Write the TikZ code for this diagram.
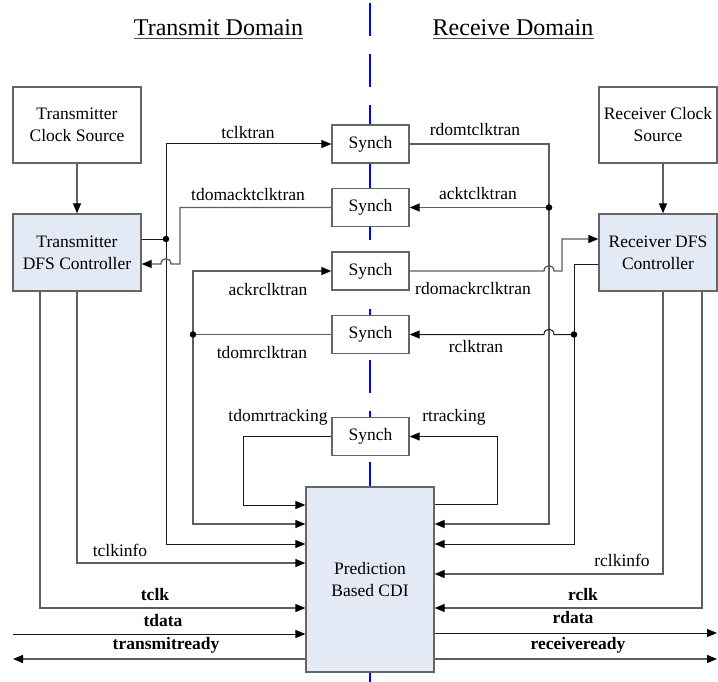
\documentclass[tikz,border=0pt]{standalone}
\usepackage{fontspec}
\setmainfont{Liberation Serif}
\usetikzlibrary{arrows.meta}
\definecolor{bord}{HTML}{666666}
\definecolor{fillb}{HTML}{E4EAF5}
\definecolor{gl}{HTML}{5E5E5E}
\definecolor{bl}{HTML}{1A1A1A}
\tikzset{
  fnt/.style={font=\fontsize{17.5}{22}\selectfont},
  box/.style={draw=bord, line width=1.3pt, fill=white, align=center, inner sep=0pt, fnt},
  bluebox/.style={box, fill=fillb},
  synchbox/.style={box, minimum width=77pt, minimum height=38pt},
  gwire/.style={draw=gl, line width=1.3pt},
  bwire/.style={draw=bl, line width=1pt},
  tip/.style={-{Triangle[length=10pt,width=8pt,color=black]}},
  lbl/.style={fnt, inner sep=0pt},
  blbl/.style={inner sep=0pt, font=\fontsize{17.5}{22}\selectfont\bfseries},
  ttl/.style={inner sep=0pt, font=\fontsize{24}{28}\selectfont},
  jdot/.style={circle, fill=black, inner sep=0pt, minimum size=6.5pt},
}
\begin{document}
\begin{tikzpicture}[x=1pt,y=-1pt]
\useasboundingbox (0,0) rectangle (718,682);
\fill[white] (0,0) rectangle (718,682);
% domain divider
\draw[blue, line width=2pt, dash pattern=on 33pt off 18pt] (370,3) -- (370,682);
% titles
\node[ttl] (tt) at (218.5,28) {Transmit Domain};
\draw[black!70, line width=1.2pt] ([yshift=-3pt]tt.base west) -- ([yshift=-3pt]tt.base east);
\node[ttl] (rt) at (513,28) {Receive Domain};
\draw[black!70, line width=1.2pt] ([yshift=-3pt]rt.base west) -- ([yshift=-3pt]rt.base east);
% boxes
\node[box, minimum width=128pt, minimum height=76pt] (tcs) at (77,125) {Transmitter\\Clock Source};
\node[bluebox, minimum width=128pt, minimum height=77pt] (tdfs) at (77,252.5) {Transmitter\\DFS Controller};
\node[box, minimum width=118pt, minimum height=76pt] (rcs) at (658,125) {Receiver Clock\\Source};
\node[bluebox, minimum width=118pt, minimum height=77pt] (rdfs) at (658,252.5) {Receiver DFS\\Controller};
\node[synchbox] (s1) at (370.5,144) {Synch};
\node[synchbox] (s2) at (370.5,207.5) {Synch};
\node[synchbox] (s3) at (370.5,271) {Synch};
\node[synchbox] (s4) at (370.5,334.5) {Synch};
\node[synchbox] (s5) at (370.5,436.5) {Synch};
\node[bluebox, minimum width=128pt, minimum height=185pt] (cdi) at (370,579.5) {Prediction\\Based CDI};
% helper coordinates
\coordinate (yA) at (0,239);
\coordinate (yB) at (0,264);
\coordinate (j1) at (166,239);
\coordinate (j2) at (193,334.5);
\coordinate (j3) at (549,207.5);
\coordinate (j4) at (574,334.5);
\coordinate (t1) at (166,544);
\coordinate (t2) at (193,524);
\coordinate (t3) at (243,505);
\coordinate (t4) at (77,563);
\coordinate (t5) at (40,608);
\coordinate (t6) at (13,634);
\coordinate (t7) at (13,659);
\coordinate (r1) at (549,524);
\coordinate (r3) at (574,544);
\coordinate (r4) at (497,504);
\coordinate (r5) at (663,574);
\coordinate (r6) at (702,608);
\coordinate (r7) at (717,633);
\coordinate (r8) at (717,659);
% clock source arrows
\draw[gwire,tip] (tcs) -- (tdfs);
\draw[gwire,tip] (rcs.south -| r5) -- (rdfs.north -| r5);
% ---- left side ----
% tclktran
\draw[bwire] (tdfs.east |- j1) -- (j1);
\draw[bwire,tip] (j1) |- (s1.west);
\draw[bwire,tip] (j1) -- (t1) -- (t1 -| cdi.west);
\node[jdot] (d1) at (j1) {};
% tdomacktclktran
\draw[gwire,tip] (s2.west) -- (180,207.5) -- (180,264) -- (171,264) .. controls (171,257) and (161,257) .. (161,264) -- (tdfs.east |- yB);
% ackrclktran / tdomrclktran
\draw[gwire] (s4.west) -- (j2);
\draw[gwire,tip] (j2) |- (s3.west);
\draw[gwire,tip] (j2) -- (t2) -- (t2 -| cdi.west);
\node[jdot] (d2) at (j2) {};
% tdomrtracking
\draw[bwire,tip] (s5.west) -| (t3) -- (t3 -| cdi.west);
% tclkinfo, tclk
\draw[gwire,tip] (tdfs.south -| t4) -- (t4) -- (t4 -| cdi.west);
\draw[gwire,tip] (tdfs.south -| t5) -- (t5) -- (t5 -| cdi.west);
% tdata, transmitready
\draw[bwire,tip] (t6) -- (t6 -| cdi.west);
\draw[gwire,tip] (t7 -| cdi.west) -- (t7);
% ---- right side ----
% rdomtclktran / acktclktran
\draw[gwire,tip] (s1.east) -| (r1) -- (r1 -| cdi.east);
\draw[gwire,tip] (j3) -- (s2.east);
\node[jdot] (d3) at (j3) {};
% rdomackrclktran
\draw[gwire,tip] (s3.east) -- (544,271) .. controls (544,264) and (554,264) .. (554,271) -- (562,271) -- (562,239) -- (rdfs.west |- yA);
% rclktran
\draw[bwire] (rdfs.west |- yB) -- (574,264) -- (j4);
\draw[bwire,tip] (j4) -- (554,334.5) .. controls (554,327.5) and (544,327.5) .. (544,334.5) -- (s4.east);
\draw[bwire,tip] (j4) -- (r3) -- (r3 -| cdi.east);
\node[jdot] (d4) at (j4) {};
% rtracking
\draw[bwire,tip] (cdi.east |- r4) -- (r4) |- (s5.east);
% rclkinfo, rclk
\draw[gwire,tip] (rdfs.south -| r5) -- (r5) -- (r5 -| cdi.east);
\draw[gwire,tip] (rdfs.south -| r6) -- (r6) -- (r6 -| cdi.east);
% rdata, receiveready
\draw[bwire,tip] (cdi.east |- r7) -- (r7);
\draw[gwire,tip] (cdi.east |- r8) -- (r8);
% labels
\node[lbl] (l1) at (248,133) {tclktran};
\node[lbl] (l2) at (248,195) {tdomacktclktran};
\node[lbl] (l3) at (268,290) {ackrclktran};
\node[lbl] (l4) at (262,353) {tdomrclktran};
\node[lbl] (l5) at (278,417) {tdomrtracking};
\node[lbl] (l6) at (120,550) {tclkinfo};
\node[blbl] (l7) at (155,595) {tclk};
\node[blbl] (l8) at (163,621) {tdata};
\node[blbl] (l9) at (166,645) {transmitready};
\node[lbl] (m1) at (475,130) {rdomtclktran};
\node[lbl] (m2) at (478,194) {acktclktran};
\node[lbl] (m3) at (473,289) {rdomackrclktran};
\node[lbl] (m4) at (476,347) {rclktran};
\node[lbl] (m5) at (454,417) {rtracking};
\node[lbl] (m6) at (622,560) {rclkinfo};
\node[blbl] (m7) at (583,595) {rclk};
\node[blbl] (m8) at (573,618) {rdata};
\node[blbl] (m9) at (578,645) {receiveready};
\end{tikzpicture}
\end{document}
